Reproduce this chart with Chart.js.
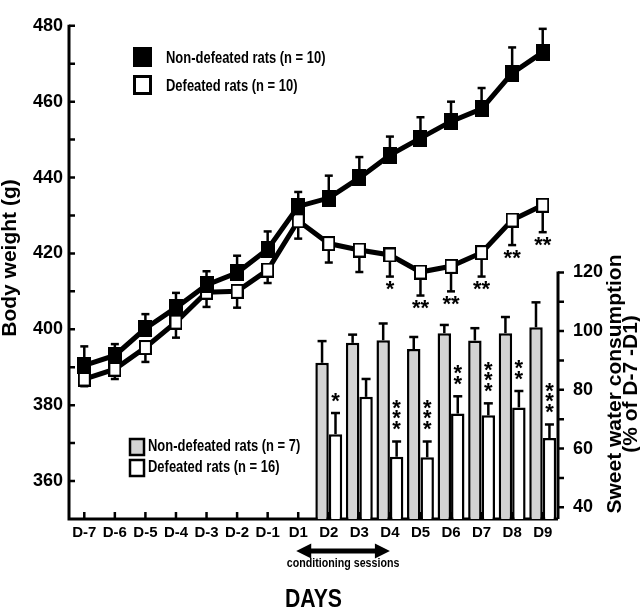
<!DOCTYPE html>
<html>
<head>
<meta charset="utf-8">
<script src="https://cdn.jsdelivr.net/npm/chart.js@4.4.1/dist/chart.umd.min.js"></script>
<style>
  html, body { margin: 0; padding: 0; background: #fff; }
  #wrap { width: 640px; height: 608px; }
</style>
</head>
<body>
<div id="wrap"><canvas id="myChart" width="640" height="608"></canvas></div>
<script>
// Categories
const days = ['D-7', 'D-6', 'D-5', 'D-4', 'D-3', 'D-2', 'D-1', 'D1', 'D2', 'D3', 'D4', 'D5', 'D6', 'D7', 'D8', 'D9'];

// Body weight (g), mean and SEM
const bwNonDefeated    = [390.5, 393.1, 400.2, 405.7, 411.7, 414.9, 421.1, 432.4, 434.6, 439.9, 445.9, 450.4, 454.8, 458.1, 467.5, 473.0];
const bwNonDefeatedSem = [5.0, 3.0, 3.8, 3.9, 3.6, 4.5, 4.7, 3.8, 5.9, 5.5, 4.9, 5.5, 5.2, 5.5, 6.8, 6.2];
const bwDefeated       = [386.9, 389.5, 395.2, 401.9, 409.8, 410.0, 415.6, 428.6, 422.6, 420.9, 419.6, 415.1, 416.6, 420.2, 428.8, 432.7];
const bwDefeatedSem    = [1.9, 2.6, 3.8, 4.1, 3.9, 4.3, 3.4, 4.7, 5.0, 5.8, 5.7, 6.2, 6.6, 6.3, 6.6, 7.1];
const bwStars          = ['', '', '', '', '', '', '', '', '', '', '*', '**', '**', '**', '**', '**'];

// Sweet water consumption (% of D-7 - D1)
const sweetDays           = ['D2', 'D3', 'D4', 'D5', 'D6', 'D7', 'D8', 'D9'];
const sweetNonDefeated    = [89.2, 96.0, 96.9, 93.9, 99.3, 96.8, 99.3, 101.3];
const sweetNonDefeatedSem = [7.4, 2.8, 5.7, 4.1, 2.8, 4.2, 5.5, 8.5];
const sweetDefeated       = [64.9, 77.6, 57.2, 57.0, 71.9, 71.3, 74.0, 63.6];
const sweetDefeatedSem    = [7.2, 6.1, 5.2, 5.4, 5.9, 4.1, 5.6, 4.6];
const sweetStars          = ['*', '', '***', '***', '**', '***', '**', '***'];

// Axis ticks
const bwTicks = [360, 380, 400, 420, 440, 460, 480];
const bwMinorTicks = [370, 390, 410, 430, 450, 470];
const sweetTicks = [40, 60, 80, 100, 120];
const sweetMinorTicks = [50, 70, 90, 110];

// Conditioning period
const condFrom = 'D1';
const condTo = 'D4';

const SANS = '"Liberation Sans", Arial, sans-serif';
const GRAY = '#d3d3d3';
const SQUEEZE = 0.81; // the figure's lettering is condensed

// bar arrays padded to the full category list
function padToDays(vals) {
    return days.map(d => {
        const i = sweetDays.indexOf(d);
        return i < 0 ? null : vals[i];
    });
}

// rectangular markers
function marker(w, h, open) {
    const c = document.createElement('canvas');
    c.width = w; c.height = h;
    const g = c.getContext('2d');
    g.fillStyle = '#000';
    g.fillRect(0, 0, w, h);
    if (open) {
        g.fillStyle = '#fff';
        g.fillRect(2, 2, w - 4, h - 4);
    }
    return c;
}

function errBar(ctx, px, y0, y1, cap) {
    ctx.beginPath();
    ctx.moveTo(px, y0);
    ctx.lineTo(px, y1);
    ctx.stroke();
    ctx.beginPath();
    ctx.moveTo(px - cap / 2, y1);
    ctx.lineTo(px + cap / 2, y1);
    ctx.stroke();
}

// condensed text
function squeezed(ctx, text, px, py, sx) {
    ctx.save();
    ctx.translate(px, py);
    ctx.scale(sx, 1);
    ctx.fillText(text, 0, 0);
    ctx.restore();
}

// asterisks, placed by the middle of their ink
function starAt(ctx, text, px, cy, shift) {
    const m = ctx.measureText(text);
    const base = cy + (m.actualBoundingBoxAscent - m.actualBoundingBoxDescent) / 2;
    ctx.fillText(text, px, base + shift);
}

const decor = {
    id: 'decor',
    beforeDatasetsDraw(chart) {
        const { ctx, chartArea: a, scales: { x, y, y2 } } = chart;
        ctx.save();
        ctx.strokeStyle = '#000';
        ctx.lineCap = 'butt';

        // axis lines
        ctx.lineWidth = 3;
        ctx.beginPath();
        ctx.moveTo(a.left, y.getPixelForValue(480) - 1);
        ctx.lineTo(a.left, a.bottom);
        ctx.lineTo(a.right, a.bottom);
        ctx.moveTo(a.right, y2.getPixelForValue(120) - 1);
        ctx.lineTo(a.right, a.bottom);
        ctx.stroke();

        // tick marks
        ctx.lineWidth = 2.5;
        ctx.beginPath();
        bwTicks.concat(bwMinorTicks).forEach(v => {
            const py = y.getPixelForValue(v);
            ctx.moveTo(a.left, py);
            ctx.lineTo(a.left + 6, py);
        });
        sweetTicks.concat(sweetMinorTicks).forEach(v => {
            const py = y2.getPixelForValue(v);
            ctx.moveTo(a.right, py);
            ctx.lineTo(a.right + 6, py);
        });
        days.forEach((d, i) => {
            const px = x.getPixelForValue(i);
            ctx.moveTo(px, a.bottom);
            ctx.lineTo(px, a.bottom - 7);
        });
        ctx.stroke();

        // error bars of the body weight curves
        ctx.lineWidth = 2.5;
        const m0 = chart.getDatasetMeta(0);
        const m1 = chart.getDatasetMeta(1);
        days.forEach((d, i) => {
            const e0 = m0.data[i];
            errBar(ctx, e0.x, e0.y, y.getPixelForValue(bwNonDefeated[i] + bwNonDefeatedSem[i]), 8);
            const e1 = m1.data[i];
            errBar(ctx, e1.x, e1.y, y.getPixelForValue(bwDefeated[i] - bwDefeatedSem[i]), 8);
        });

        // error bars of the sweet water bars
        const m2 = chart.getDatasetMeta(2);
        const m3 = chart.getDatasetMeta(3);
        sweetDays.forEach((d, k) => {
            const i = days.indexOf(d);
            const b2 = m2.data[i];
            errBar(ctx, b2.x, b2.y, y2.getPixelForValue(sweetNonDefeated[k] + sweetNonDefeatedSem[k]), 9);
            const b3 = m3.data[i];
            errBar(ctx, b3.x, b3.y, y2.getPixelForValue(sweetDefeated[k] + sweetDefeatedSem[k]), 9);
        });
        ctx.restore();
    },
    afterDraw(chart) {
        const { ctx, chartArea: a, scales: { x, y, y2 } } = chart;
        ctx.save();
        ctx.fillStyle = '#000';
        ctx.strokeStyle = '#000';

        // significance stars under the defeated curve
        ctx.font = 'bold 22px ' + SANS;
        ctx.textAlign = 'center';
        ctx.textBaseline = 'alphabetic';
        days.forEach((d, i) => {
            if (!bwStars[i]) return;
            const px = x.getPixelForValue(i);
            const py = y.getPixelForValue(bwDefeated[i] - bwDefeatedSem[i]) + 12;
            starAt(ctx, bwStars[i], px, py, -3);
        });

        // stacked stars above the defeated bars
        const m3 = chart.getDatasetMeta(3);
        sweetDays.forEach((d, k) => {
            const n = sweetStars[k].length;
            if (!n) return;
            const b = m3.data[days.indexOf(d)];
            const top = y2.getPixelForValue(sweetDefeated[k] + sweetDefeatedSem[k]);
            for (let s = 0; s < n; s++) {
                starAt(ctx, '*', b.x, top - 11 - s * 10.5, -5);
            }
        });

        // body weight legend
        ctx.fillRect(133, 47, 19, 20);
        ctx.lineWidth = 3;
        ctx.fillStyle = '#fff';
        ctx.fillRect(134.5, 76.5, 16, 17);
        ctx.strokeRect(134.5, 76.5, 16, 17);
        ctx.fillStyle = '#000';
        ctx.font = 'bold 16px ' + SANS;
        ctx.textAlign = 'left';
        ctx.textBaseline = 'middle';
        squeezed(ctx, 'Non-defeated rats (n = 10)', 166, 59, SQUEEZE);
        squeezed(ctx, 'Defeated rats (n = 10)', 166, 87, SQUEEZE);

        // sweet water legend
        ctx.lineWidth = 2.5;
        ctx.fillStyle = GRAY;
        ctx.fillRect(130, 439, 14, 16);
        ctx.strokeRect(130, 439, 14, 16);
        ctx.fillStyle = '#fff';
        ctx.fillRect(130, 460, 14, 16);
        ctx.strokeRect(130, 460, 14, 16);
        ctx.fillStyle = '#000';
        squeezed(ctx, 'Non-defeated rats (n = 7)', 148, 447, SQUEEZE);
        squeezed(ctx, 'Defeated rats (n = 16)', 148, 468, SQUEEZE);

        // conditioning arrow
        const ax1 = x.getPixelForValue(days.indexOf(condFrom)) - 2;
        const ax2 = x.getPixelForValue(days.indexOf(condTo));
        const ay = 551;
        ctx.fillRect(ax1 + 10, ay - 2.5, ax2 - ax1 - 20, 5);
        ctx.beginPath();
        ctx.moveTo(ax1, ay); ctx.lineTo(ax1 + 15, ay - 7.5); ctx.lineTo(ax1 + 15, ay + 7.5); ctx.closePath();
        ctx.moveTo(ax2, ay); ctx.lineTo(ax2 - 15, ay - 7.5); ctx.lineTo(ax2 - 15, ay + 7.5); ctx.closePath();
        ctx.fill();
        ctx.font = 'bold 13px ' + SANS;
        ctx.textAlign = 'center';
        squeezed(ctx, 'conditioning sessions', (ax1 + ax2) / 2, 563, 0.82);

        // x title
        ctx.font = 'bold 25px ' + SANS;
        ctx.textBaseline = 'alphabetic';
        squeezed(ctx, 'DAYS', (a.left + a.right) / 2, 607, 0.85);

        // y titles
        ctx.font = 'bold 21px ' + SANS;
        ctx.textBaseline = 'middle';
        ctx.save();
        ctx.translate(10, 258);
        ctx.rotate(-Math.PI / 2);
        ctx.fillText('Body weight (g)', 0, 0);
        ctx.restore();
        ctx.save();
        ctx.translate(615, 384);
        ctx.rotate(-Math.PI / 2);
        ctx.fillText('Sweet water consumption', 0, 0);
        ctx.fillText('(% of D-7 -D1)', 0, 16);
        ctx.restore();

        ctx.restore();
    }
};

Chart.defaults.font.family = SANS;
Chart.defaults.color = '#000';

const ctx = document.getElementById('myChart').getContext('2d');
const myChart = new Chart(ctx, {
    type: 'bar',
    data: {
        labels: days,
        datasets: [
            {
                type: 'line',
                label: 'Non-defeated rats (n = 10)',
                data: bwNonDefeated,
                yAxisID: 'y',
                borderColor: '#000',
                borderWidth: 5,
                pointStyle: marker(14, 17, false),
                tension: 0,
                order: 1
            },
            {
                type: 'line',
                label: 'Defeated rats (n = 10)',
                data: bwDefeated,
                yAxisID: 'y',
                borderColor: '#000',
                borderWidth: 5,
                pointStyle: marker(13, 15, true),
                tension: 0,
                order: 1
            },
            {
                label: 'Non-defeated rats (n = 7)',
                data: padToDays(sweetNonDefeated),
                yAxisID: 'y2',
                backgroundColor: GRAY,
                borderColor: '#000',
                borderWidth: 2.5,
                categoryPercentage: 0.88,
                barPercentage: 1.0,
                order: 2
            },
            {
                label: 'Defeated rats (n = 16)',
                data: padToDays(sweetDefeated),
                yAxisID: 'y2',
                backgroundColor: '#fff',
                borderColor: '#000',
                borderWidth: 2.5,
                categoryPercentage: 0.88,
                barPercentage: 1.0,
                order: 2
            }
        ]
    },
    options: {
        responsive: false,
        animation: false,
        events: [],
        layout: { padding: { top: 11, left: 0, right: 0, bottom: 0 } },
        plugins: {
            legend: { display: false },
            tooltip: { enabled: false },
            title: { display: false }
        },
        scales: {
            x: {
                type: 'category',
                offset: true,
                grid: { display: false, drawTicks: false },
                border: { display: false },
                ticks: {
                    font: { size: 15, weight: 'bold' },
                    padding: 5,
                    autoSkip: false,
                    maxRotation: 0
                },
                afterFit(s) { s.height = 89; }
            },
            y: {
                position: 'left',
                min: 350,
                max: 480,
                grid: { display: false, drawTicks: false },
                border: { display: false },
                ticks: { font: { size: 18, weight: 'bold' }, padding: 6 },
                afterBuildTicks(s) { s.ticks = bwTicks.map(v => ({ value: v })); },
                afterFit(s) { s.width = 69; }
            },
            y2: {
                position: 'right',
                min: 36,
                max: 204,
                grid: { display: false, drawTicks: false },
                border: { display: false },
                ticks: { font: { size: 18, weight: 'bold' }, padding: 15 },
                afterBuildTicks(s) { s.ticks = sweetTicks.map(v => ({ value: v })); },
                afterFit(s) { s.width = 82; }
            }
        }
    },
    plugins: [decor]
});
</script>
</body>
</html>
